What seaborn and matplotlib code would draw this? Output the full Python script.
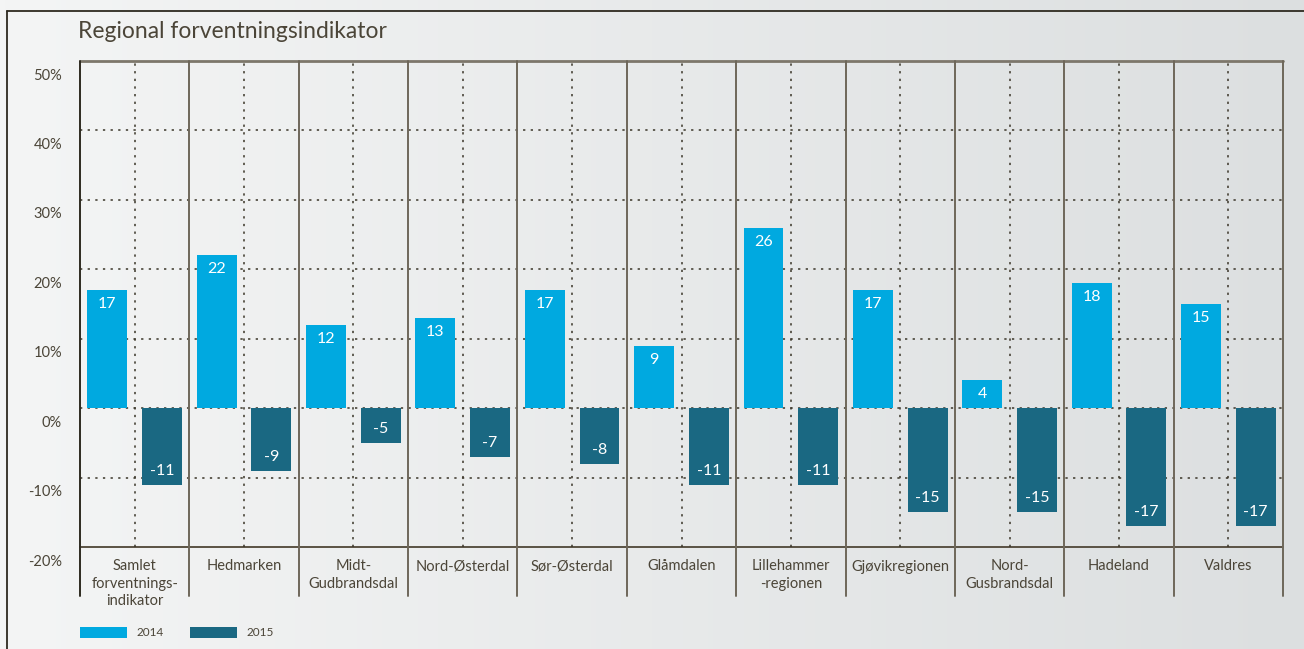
import numpy as np
import pandas as pd
import matplotlib.pyplot as plt
import matplotlib.transforms as mtrans
from matplotlib.lines import Line2D
from matplotlib.colors import LinearSegmentedColormap
import seaborn as sns

# data
regions = ["Samlet\nforventnings-\nindikator", "Hedmarken", "Midt-\nGudbrandsdal",
           "Nord-Østerdal", "Sør-Østerdal", "Glåmdalen", "Lillehammer\n-regionen",
           "Gjøvikregionen", "Nord-\nGusbrandsdal", "Hadeland", "Valdres"]
years = ["2014", "2015"]
values_2014 = [17, 22, 12, 13, 17, 9, 26, 17, 4, 18, 15]
values_2015 = [-11, -9, -5, -7, -8, -11, -11, -15, -15, -17, -17]
y_ticks = [-20, -10, 0, 10, 20, 30, 40, 50]

col_2014 = "#00a9e0"
col_2015 = "#1a6882"
txt = "#4b4538"
dark = "#2e2a20"

df = pd.DataFrame({
    "region": regions * 2,
    "year": [years[0]] * len(regions) + [years[1]] * len(regions),
    "value": values_2014 + values_2015,
})

sns.set_theme(style="white")
plt.rcParams["font.family"] = ["Lato", "DejaVu Sans"]

fig = plt.figure(figsize=(13.04, 6.49), dpi=100)

# soft horizontal gradient behind everything
bg = fig.add_axes([0, 0, 1, 1], zorder=-10)
grad = np.linspace(0, 1, 256).reshape(1, -1)
cm = LinearSegmentedColormap.from_list("bg", ["#f4f5f5", "#dcdfe0"])
bg.imshow(grad, aspect="auto", cmap=cm, extent=[0, 1, 0, 1])
bg.axis("off")

# outer frame (left + top)
fig.add_artist(Line2D([7 / 1304, 7 / 1304], [0, 1 - 11 / 649], color=dark, lw=1.3))
fig.add_artist(Line2D([7 / 1304, 1], [1 - 11 / 649, 1 - 11 / 649], color=dark, lw=1.3))

ax = fig.add_axes([80 / 1304, 1 - 547 / 649, (1283 - 80) / 1304, (547 - 61) / 649])
ax.set_facecolor("none")

sns.barplot(data=df, x="region", y="value", hue="year", order=regions,
            hue_order=years, palette=[col_2014, col_2015], saturation=1,
            width=1.0, gap=0.27, linewidth=0, edgecolor="none", ax=ax, zorder=3)

n = len(regions)
ax.set_xlim(-0.5, n - 0.5)
ax.set_ylim(-20, 50)
for s in ax.spines.values():
    s.set_visible(False)

# horizontal grid
yt = ax.get_yaxis_transform()
for v in y_ticks:
    if v == 50:
        ax.plot([0, 1], [v, v], color="#7d776b", lw=2.0, zorder=2, clip_on=False,
                transform=yt)
    elif v == -20:
        ax.plot([0, 1], [v, v], color="#5a5244", lw=1.4, zorder=2, clip_on=False,
                transform=yt)
    else:
        ax.axhline(v, color="#3a3528", lw=1.1, ls=(0, (1.5, 3.5)), zorder=2)

# vertical dividers and dotted centre lines
xt = ax.get_xaxis_transform()
for i in range(n + 1):
    c = dark if i == 0 else "#6e675a"
    ax.plot([i - 0.5, i - 0.5], [-0.1, 1.0], color=c, lw=1.4, transform=xt,
            clip_on=False, zorder=2)
for i in range(n):
    ax.plot([i, i], [0, 1.0], color="#3a3528", lw=1.1, ls=(0, (1.5, 3.5)),
            transform=xt, zorder=2)

# labels inside the bars
for cont in ax.containers:
    for bar in cont:
        h = bar.get_height()
        xc = bar.get_x() + bar.get_width() / 2
        off = -10 if h >= 0 else 10
        ax.annotate(f"{h:.0f}", (xc, h), xytext=(0, off), textcoords="offset points",
                    ha="center", va="center", color="white", fontsize=11.5, zorder=5)

ax.set_yticks(y_ticks)
ax.set_yticklabels([f"{v}%" for v in y_ticks])
ax.tick_params(axis="y", length=0, pad=13, labelsize=10.5, labelcolor=txt)
shift = mtrans.ScaledTranslation(0, -13 / 100, fig.dpi_scale_trans)
for lab in ax.get_yticklabels():
    lab.set_transform(lab.get_transform() + shift)

ax.set_xticks(range(n))
ax.set_xticklabels(regions, linespacing=1.3, ma="center")
ax.tick_params(axis="x", length=0, pad=9, labelsize=10.5, labelcolor=txt)
ax.set_xlabel("")
ax.set_ylabel("")

fig.text(78 / 1304, 1 - 32 / 649, "Regional forventningsindikator", fontsize=16.5,
         color=txt, va="center", ha="left")

sns.move_legend(ax, "lower left", bbox_to_anchor=(80 / 1304 - 0.008, 0.0),
                bbox_transform=fig.transFigure, ncol=2, title=None, frameon=False,
                fontsize=8.5, handlelength=4.0, handleheight=1.0,
                handletextpad=0.8, columnspacing=2.2, labelcolor=txt)

fig.savefig("out.png", dpi=100)
